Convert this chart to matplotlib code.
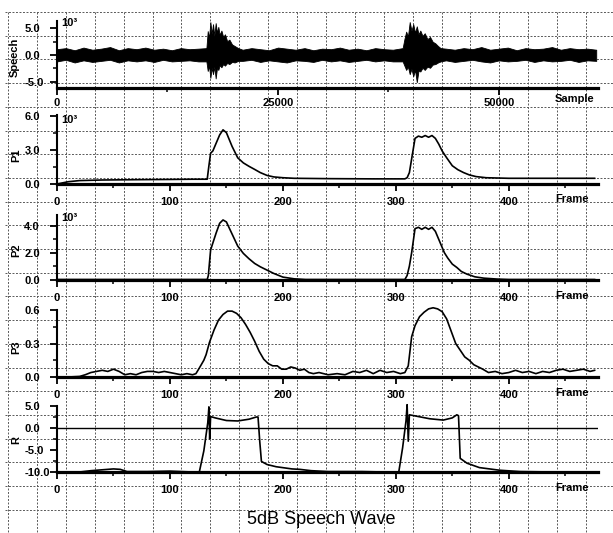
import matplotlib
matplotlib.use('Agg')
import matplotlib.pyplot as plt
from matplotlib.lines import Line2D
from matplotlib.ticker import FormatStrFormatter

# ---------------- data ----------------
# Speech waveform envelope (units of 10^3)
speech_sample = [
    0, 1000, 2000, 3000, 4000, 5000, 6000, 7000, 8000, 9000, 10000, 11000, 12000, 13000, 14000, 15000, 16000,
    16900, 17050, 17200, 17350, 17500, 17650, 17800, 17950, 18100, 18250, 18400, 18600, 18800, 19000, 19250, 19500, 19800, 20100, 20500,
    21000, 22000, 23000, 24000, 25000, 26000, 27000, 28000, 29000, 30000, 31000, 32000, 33000, 34000, 35000, 36000, 37000, 38000,
    39100, 39300, 39500, 39700, 39900, 40100, 40300, 40500, 40700, 40900, 41100, 41350, 41600, 41900, 42200, 42500, 42800, 43100, 43400,
    44000, 45000, 46000, 47000, 48000, 49000, 50000, 51000, 52000, 53000, 54000, 55000, 56000, 57000, 58000, 59000, 60000, 61000,
]
speech_hi = [
    1.1, 1.3, 0.9, 1.4, 1.0, 1.2, 1.5, 0.9, 1.3, 1.1, 1.4, 1.0, 1.2, 0.9, 1.3, 1.1, 1.2,
    1.3, 4.5, 3.2, 6.2, 4.0, 5.8, 3.6, 6.0, 4.2, 5.3, 3.8, 4.6, 3.4, 3.9, 2.6, 2.9, 2.0, 1.7, 1.3,
    1.0, 1.3, 1.1, 0.9, 1.4, 1.2, 1.0, 1.3, 0.9, 1.2, 1.1, 1.4, 1.0, 1.2, 0.9, 1.3, 1.1, 1.0,
    1.3, 3.0, 4.4, 3.5, 6.2, 4.6, 5.8, 4.2, 5.4, 3.9, 4.6, 3.6, 4.1, 3.0, 3.4, 2.5, 2.2, 1.7, 1.3,
    1.2, 1.0, 1.3, 1.1, 1.5, 1.0, 1.2, 1.4, 0.9, 1.3, 1.1, 1.2, 1.5, 1.0, 1.3, 1.1, 1.2, 1.0,
]
speech_lo = [
    -1.2, -0.9, -1.4, -1.0, -1.3, -1.1, -0.9, -1.4, -1.0, -1.2, -1.0, -1.3, -0.9, -1.2, -1.1, -1.0, -1.2,
    -1.2, -3.0, -2.0, -4.3, -2.4, -3.6, -2.2, -4.4, -2.4, -2.8, -1.9, -2.3, -1.7, -2.0, -1.5, -1.7, -1.3, -1.4, -1.1,
    -1.1, -0.9, -1.3, -1.0, -1.2, -1.4, -1.0, -1.1, -1.3, -0.9, -1.2, -1.0, -1.3, -1.1, -0.9, -1.2, -1.0, -1.2,
    -1.2, -2.0, -2.8, -2.2, -3.6, -2.6, -4.0, -2.8, -5.1, -2.9, -3.1, -2.4, -2.8, -2.2, -2.4, -1.8, -1.7, -1.4, -1.2,
    -1.0, -1.3, -1.1, -0.9, -1.2, -1.4, -1.0, -1.2, -1.1, -0.9, -1.3, -1.0, -1.2, -1.1, -0.9, -1.3, -1.0, -1.1,
]

# P1 (units of 10^3)
p1_frame = [0, 5, 10, 20, 40, 70, 100, 120, 133, 134.5,
            136, 138, 141, 144, 147, 150, 155, 160, 165, 170,
            175, 180, 186, 192, 200, 210, 240, 280, 308, 310,
            312, 314, 317, 320, 323, 326, 329, 332, 335, 338,
            341, 345, 350, 355, 360, 365, 371, 380, 400, 440,
            476]
p1_value = [0.0, 0.1, 0.2, 0.3, 0.35, 0.38, 0.4, 0.42, 0.42, 1.6,
            2.7, 2.9, 3.6, 4.3, 4.75, 4.5, 3.3, 2.3, 1.85, 1.55,
            1.28, 1.0, 0.75, 0.62, 0.55, 0.5, 0.47, 0.45, 0.45, 0.55,
            1.0, 2.2, 4.0, 4.2, 4.1, 4.25, 4.1, 4.25, 4.0, 3.5,
            2.9, 2.3, 1.6, 1.25, 1.0, 0.8, 0.65, 0.55, 0.5, 0.5,
            0.5]

# P2 (units of 10^3)
p2_frame = [0, 133, 134, 136, 137.5, 141, 144, 147, 150, 155,
            160, 165, 170, 175, 180, 186, 192, 200, 210, 220,
            308, 310, 312, 314, 317, 320, 323, 326, 329, 332,
            335, 339, 343, 346, 350, 354, 358, 363, 370, 378,
            390, 400, 476]
p2_value = [0.0, 0.0, 0.3, 2.2, 2.6, 3.5, 4.2, 4.45, 4.3, 3.4,
            2.5, 1.95, 1.55, 1.2, 0.95, 0.7, 0.45, 0.18, 0.05, 0.0,
            0.0, 0.3, 1.0, 2.0, 3.8, 3.9, 3.75, 3.9, 3.75, 3.9,
            3.6, 2.8, 2.0, 1.6, 1.15, 0.9, 0.6, 0.4, 0.2, 0.1,
            0.03, 0.0, 0.0]

# P3
p3_frame = [0, 10, 20, 25, 30, 35, 40, 45, 50, 55,
            60, 65, 70, 75, 80, 85, 90, 95, 100, 105,
            110, 115, 120, 123, 126, 130, 132, 135, 139, 143,
            147, 151, 155, 159, 163, 167, 171, 175, 179, 183,
            187, 191, 195, 199, 203, 207, 211, 215, 219, 223,
            227, 232, 240, 248, 255, 262, 268, 274, 280, 286,
            292, 298, 304, 308, 311, 314, 317, 321, 325, 329,
            333, 337, 341, 345, 349, 353, 357, 361, 365, 369,
            373, 377, 382, 388, 394, 400, 406, 412, 418, 424,
            430, 436, 442, 448, 454, 460, 466, 472, 476]
p3_value = [0.0, 0.0, 0.005, 0.02, 0.04, 0.05, 0.06, 0.05, 0.07, 0.05,
            0.02, 0.03, 0.02, 0.04, 0.05, 0.05, 0.04, 0.05, 0.04, 0.03,
            0.02, 0.03, 0.02, 0.03, 0.08, 0.15, 0.2, 0.31, 0.42, 0.51,
            0.56, 0.59, 0.59, 0.57, 0.53, 0.47, 0.40, 0.32, 0.23, 0.16,
            0.12, 0.10, 0.10, 0.07, 0.07, 0.09, 0.08, 0.06, 0.07, 0.04,
            0.03, 0.04, 0.02, 0.03, 0.02, 0.05, 0.04, 0.06, 0.03, 0.06,
            0.04, 0.05, 0.03, 0.04, 0.1, 0.36, 0.46, 0.54, 0.58, 0.61,
            0.62, 0.61, 0.585, 0.52, 0.41, 0.3, 0.24, 0.18, 0.15, 0.11,
            0.09, 0.07, 0.04, 0.05, 0.03, 0.04, 0.06, 0.04, 0.05, 0.03,
            0.05, 0.04, 0.06, 0.07, 0.05, 0.06, 0.07, 0.05, 0.06]

# R
r_frame = [0, 20, 30, 40, 50, 56, 62, 80, 100, 110,
           120, 126, 130, 133.5, 134.5, 135.2, 136, 140, 150, 160,
           170, 176.5, 178, 179.5, 181, 186, 194, 208, 215, 225,
           240, 270, 290, 302.6, 306, 309, 310, 311, 312, 320,
           330, 342, 350, 354, 355.5, 357, 363, 374, 392, 410,
           440, 476]
r_value = [-10, -10, -9.7, -9.5, -9.3, -9.4, -9.9, -9.9, -9.8, -9.9,
           -10, -10, -5.2, 1.2, 4.8, -2.5, 2.6, 2.3, 1.7, 1.6,
           2.0, 2.5, 2.5, -3, -7.6, -8.3, -8.8, -9.3, -9.4, -9.7,
           -9.9, -9.9, -10, -10, -4.5, 1.6, 5.3, -3.0, 3.0, 2.6,
           2.1, 1.8, 2.3, 3.0, 2.8, -6.9, -8.0, -9.0, -9.6, -9.9,
           -10, -10]

sample_ticks = [0, 25000, 50000]
sample_minor = [12500, 37500]
frame_ticks = [0, 100, 200, 300, 400]
frame_minor = [50, 150, 250, 350, 450]

# ---------------- figure ----------------
plt.rcParams['font.family'] = ['Liberation Sans', 'DejaVu Sans']
plt.rcParams['font.weight'] = 'bold'
plt.rcParams['axes.unicode_minus'] = False

W, H = 613, 533
fig = plt.figure(figsize=(W / 100, H / 100), dpi=100)


def box(left, top, right, bottom):
    return [left / W, 1 - bottom / H, (right - left) / W, (bottom - top) / H]


def fx(x):
    return x / W


def fy(y):
    return 1 - y / H


# background graph-paper grid
grid_kw = dict(color='0.35', lw=0.7, linestyle=(0, (2.0, 1.6)), zorder=-5)
for k in range(22):
    x = 8 + 28.9 * k
    if x <= W:
        fig.add_artist(Line2D([fx(x), fx(x)], [fy(12), fy(H)], transform=fig.transFigure, **grid_kw))
for k in range(23):
    y = 12 + 23.7 * k
    if y <= H:
        fig.add_artist(Line2D([fx(5), fx(W)], [fy(y), fy(y)], transform=fig.transFigure, **grid_kw))


def style(ax, xlim, ylim, yticks, yminor, xticks, xminor, xpad):
    ax.set_facecolor('none')
    ax.set_xlim(*xlim)
    ax.set_ylim(*ylim)
    for s in ('top', 'right'):
        ax.spines[s].set_visible(False)
    ax.spines['left'].set_linewidth(1.5)
    ax.spines['bottom'].set_linewidth(2.3)
    ax.set_xticks(xticks)
    ax.set_xticks(xminor, minor=True)
    ax.set_yticks(yticks)
    ax.set_yticks(yminor, minor=True)
    ax.yaxis.set_major_formatter(FormatStrFormatter('%.1f'))
    ax.tick_params(which='major', direction='out', length=5, width=1.3, labelsize=8)
    ax.tick_params(which='minor', direction='out', length=3, width=1.1)
    ax.tick_params(axis='y', which='major', pad=18.5)
    ax.tick_params(axis='x', which='major', pad=xpad)
    for lbl in ax.get_yticklabels():
        lbl.set_horizontalalignment('left')


line_kw = dict(color='black', lw=1.2, solid_joinstyle='round', clip_on=False)

# Speech
ax1 = fig.add_axes(box(57, 21, 598, 88))
style(ax1, (0, 61200), (-6.2, 6.4), [-5, 0, 5], [-2.5, 2.5], sample_ticks, sample_minor, 2.0)
ax1.fill_between(speech_sample, speech_lo, speech_hi, color='black', lw=0.6, edgecolor='black')

# P1
ax2 = fig.add_axes(box(57, 115, 598, 184))
style(ax2, (0, 479), (0, 6.05), [0, 3, 6], [1.5, 4.5], frame_ticks, frame_minor, 4.5)
ax2.plot(p1_frame, p1_value, **line_kw)

# P2
ax3 = fig.add_axes(box(57, 215, 598, 279.5))
style(ax3, (0, 479), (0, 4.82), [0, 2, 4], [1, 3], frame_ticks, frame_minor, 4.5)
ax3.plot(p2_frame, p2_value, **line_kw)

# P3
ax4 = fig.add_axes(box(57, 310, 598, 377))
style(ax4, (0, 479), (0, 0.6), [0, 0.3, 0.6], [0.15, 0.45], frame_ticks, frame_minor, 4.5)
ax4.plot(p3_frame, p3_value, **line_kw)

# R
ax5 = fig.add_axes(box(57, 406, 598, 472))
style(ax5, (0, 479), (-10, 5), [-10, -5, 0, 5], [-7.5, -2.5, 2.5], frame_ticks, frame_minor, 4.5)
ax5.axhline(0, color='black', lw=1.0)
ax5.plot(r_frame, r_value, **line_kw)

# axis names
lab_kw = dict(rotation=90, ha='center', va='center', fontsize=8, fontweight='bold')
fig.text(fx(15), fy(57), 'Speech', **lab_kw)
fig.text(fx(16), fy(155), 'P1', **lab_kw)
fig.text(fx(16), fy(250), 'P2', **lab_kw)
fig.text(fx(16), fy(347), 'P3', **lab_kw)
fig.text(fx(16), fy(440), 'R', **lab_kw)

# exponent markers
exp_kw = dict(ha='left', va='center', fontsize=8, fontweight='bold')
fig.text(fx(61), fy(23), '10³', **exp_kw)
fig.text(fx(61), fy(120), '10³', **exp_kw)
fig.text(fx(61), fy(218), '10³', **exp_kw)

# x-axis unit names
unit_kw = dict(ha='center', va='center', fontsize=8, fontweight='bold')
fig.text(fx(575), fy(99), 'Sample', **unit_kw)
fig.text(fx(572), fy(199), 'Frame', **unit_kw)
fig.text(fx(572), fy(296), 'Frame', **unit_kw)
fig.text(fx(572), fy(393), 'Frame', **unit_kw)
fig.text(fx(572), fy(488), 'Frame', **unit_kw)

# caption
fig.text(fx(321), fy(520), '5dB Speech Wave', ha='center', va='center', fontsize=13, fontweight='normal')

fig.savefig('out.png', dpi=100)
